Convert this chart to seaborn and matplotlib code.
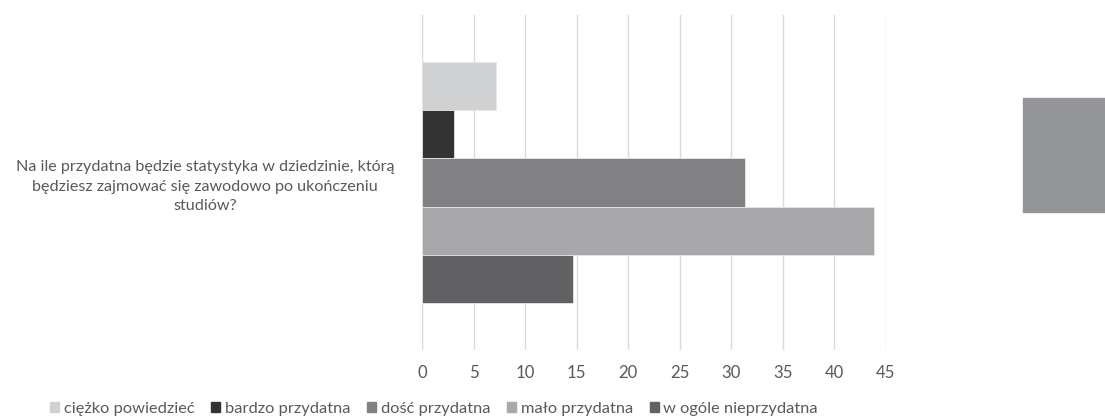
import matplotlib
matplotlib.use("Agg")
import matplotlib.pyplot as plt
import seaborn as sns
import pandas as pd
from matplotlib.patches import Rectangle

question = "Na ile przydatna będzie statystyka w dziedzinie, którą\nbędziesz zajmować się zawodowo po ukończeniu\nstudiów?"
responses = ["ciężko powiedzieć", "bardzo przydatna", "dość przydatna",
             "mało przydatna", "w ogóle nieprzydatna"]
values = [7.2, 3.1, 31.3, 43.8, 14.6]
colors = ["#d0d1d3", "#333333", "#808184", "#a7a8ab", "#616163"]
xticks = [0, 5, 10, 15, 20, 25, 30, 35, 40, 45]

df = pd.DataFrame({"question": [question] * len(responses),
                   "response": responses,
                   "value": values})

sns.set_theme(style="white")
plt.rcParams["font.family"] = ["Lato", "DejaVu Sans"]
text_color = "#595959"
fs = 12.1

fig = plt.figure(figsize=(11.05, 4.19), dpi=100)
ax = fig.add_axes([0.3819, 0.165, 0.4199, 0.799])

sns.barplot(data=df, x="value", y="question", hue="response",
            hue_order=responses, palette=colors, orient="h",
            width=0.72, edgecolor="#e6e6e6", linewidth=0.6, ax=ax,
            legend=True)

ax.set_xlim(0, 45)
ax.set_xticks(xticks)
ax.set_ylim(0.5, -0.5)
ax.set_xlabel("")
ax.set_ylabel("")
ax.grid(axis="x", color="#d9d9d9", linewidth=1)
ax.grid(axis="y", visible=False)
ax.set_axisbelow(True)
for s in ax.spines.values():
    s.set_visible(False)
ax.tick_params(axis="x", colors=text_color, labelsize=fs, length=0, pad=11)
ax.tick_params(axis="y", colors=text_color, labelsize=11.6, length=0, pad=20)
for lab in ax.get_yticklabels():
    lab.set_multialignment("center")
    lab.set_linespacing(1.5)

ax.legend_.remove()
handles = [Rectangle((0, 0), 1, 1, color=c) for c in colors]
fig.legend(handles, responses, loc="center", bbox_to_anchor=(0.393, 0.025),
           ncol=5, frameon=False, fontsize=11.8, handlelength=0.55,
           handleheight=0.55, handletextpad=0.3, columnspacing=1.0,
           labelcolor=text_color)

# grey block on the right edge
fig.patches.append(Rectangle((1023 / 1105, 1 - 212 / 419), 82 / 1105, 114 / 419,
                             transform=fig.transFigure, color="#939598",
                             zorder=0))

fig.savefig("out.png", dpi=100, facecolor="white")
